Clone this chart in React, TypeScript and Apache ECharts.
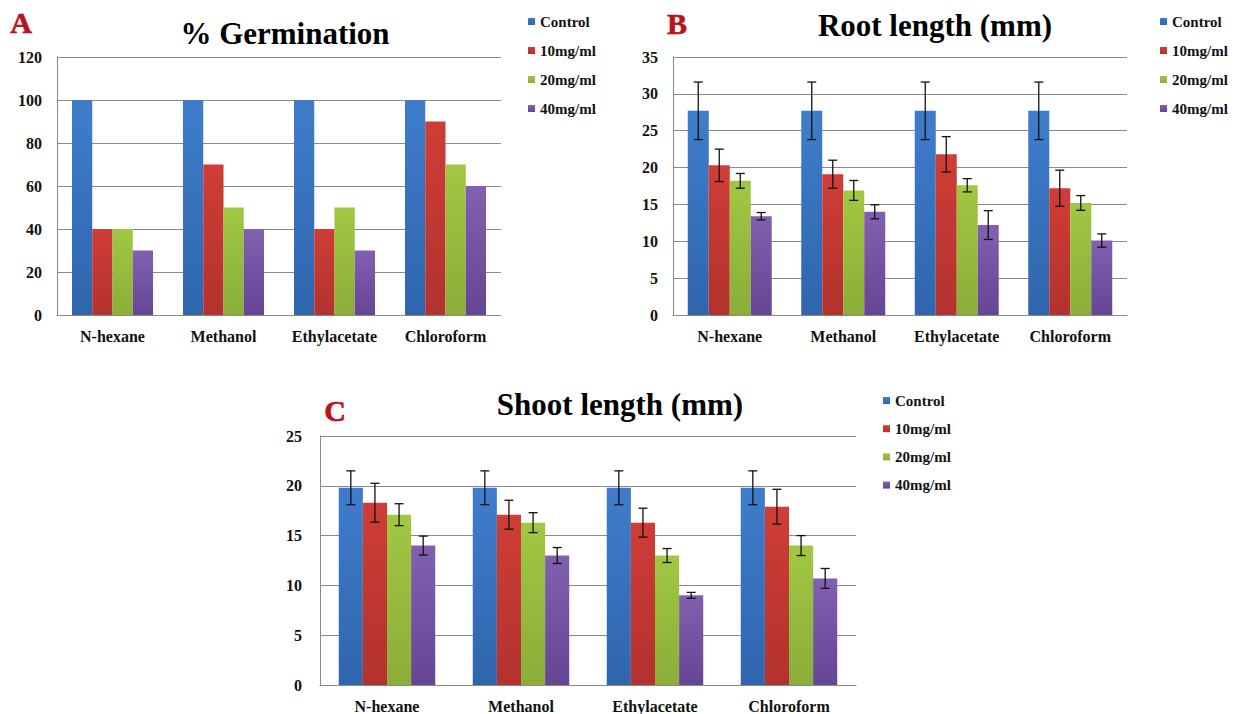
import React, { useEffect, useRef } from "react";
import * as echarts from "echarts";

const categories = ["N-hexane", "Methanol", "Ethylacetate", "Chloroform"];
const seriesNames = ["Control", "10mg/ml", "20mg/ml", "40mg/ml"];

// A: % Germination
const germControl = [100, 100, 100, 100];
const germ10 = [40, 70, 40, 90];
const germ20 = [40, 50, 50, 70];
const germ40 = [30, 40, 30, 60];

// B: Root length (mm)
const rootControl = [27.7, 27.7, 27.7, 27.7];
const root10 = [20.3, 19.1, 21.8, 17.2];
const root20 = [18.2, 16.9, 17.6, 15.2];
const root40 = [13.4, 14.0, 12.2, 10.1];
const rootErrControl = [3.9, 3.9, 3.9, 3.9];
const rootErr10 = [2.2, 1.9, 2.4, 2.45];
const rootErr20 = [1.0, 1.35, 0.9, 1.0];
const rootErr40 = [0.5, 0.95, 1.95, 0.9];

// C: Shoot length (mm)
const shootControl = [19.8, 19.8, 19.8, 19.8];
const shoot10 = [18.3, 17.1, 16.3, 17.9];
const shoot20 = [17.1, 16.3, 13.0, 14.0];
const shoot40 = [14.0, 13.0, 9.0, 10.7];
const shootErrControl = [1.7, 1.7, 1.7, 1.7];
const shootErr10 = [1.95, 1.45, 1.45, 1.75];
const shootErr20 = [1.1, 1.0, 0.7, 1.0];
const shootErr40 = [0.95, 0.8, 0.3, 1.0];

const FONT = "Liberation Serif";
const GRID_COLOR = "#8a8a8a";

const barColors = [
  ["#3f7dcc", "#2f65ad"],
  ["#cf3d36", "#b3322e"],
  ["#a2c743", "#8aae38"],
  ["#8260b0", "#664594"],
];

function grad(i: number) {
  return new echarts.graphic.LinearGradient(0, 0, 0, 1, [
    { offset: 0, color: barColors[i][0] },
    { offset: 1, color: barColors[i][1] },
  ]);
}

export default function App() {
  const ref = useRef<HTMLDivElement>(null);

  useEffect(() => {
    if (!ref.current) return;
    const chart = echarts.init(ref.current, undefined, { renderer: "svg" });

    const panels = [
      {
        grid: { left: 57, right: 736, top: 57, bottom: 399 },
        y: { min: 0, max: 120, interval: 20 },
        gap: 0.27,
        values: [germControl, germ10, germ20, germ40],
        errs: null as number[][] | null,
        labelMargin: 15,
      },
      {
        grid: { left: 673, right: 110, top: 57, bottom: 399 },
        y: { min: 0, max: 35, interval: 5 },
        gap: 0.26,
        values: [rootControl, root10, root20, root40],
        errs: [rootErrControl, rootErr10, rootErr20, rootErr40],
        labelMargin: 15,
      },
      {
        grid: { left: 320, right: 381, top: 436, bottom: 28 },
        y: { min: 0, max: 25, interval: 5 },
        gap: 0.28,
        values: [shootControl, shoot10, shoot20, shoot40],
        errs: [shootErrControl, shootErr10, shootErr20, shootErr40],
        labelMargin: 18,
      },
    ];

    const grids: any[] = [];
    const xAxes: any[] = [];
    const yAxes: any[] = [];
    const series: any[] = [];

    panels.forEach((p, pi) => {
      grids.push({ ...p.grid, containLabel: false });
      xAxes.push({
        type: "category",
        gridIndex: pi,
        data: categories,
        axisTick: { show: false },
        axisLine: { show: true, lineStyle: { color: GRID_COLOR, width: 1 } },
        axisLabel: {
          fontFamily: FONT,
          fontWeight: "bold",
          fontSize: 16,
          color: "#111",
          margin: 13,
        },
      });
      yAxes.push({
        type: "value",
        gridIndex: pi,
        min: p.y.min,
        max: p.y.max,
        interval: p.y.interval,
        axisTick: { show: false },
        axisLine: { show: true, lineStyle: { color: GRID_COLOR, width: 1 } },
        splitLine: { show: true, lineStyle: { color: GRID_COLOR, width: 1 } },
        axisLabel: {
          fontFamily: FONT,
          fontWeight: "bold",
          fontSize: 16,
          color: "#111",
          margin: p.labelMargin,
        },
      });

      p.values.forEach((vals, k) => {
        series.push({
          name: seriesNames[k],
          type: "bar",
          xAxisIndex: pi,
          yAxisIndex: pi,
          data: vals,
          barGap: "0%",
          barCategoryGap: `${p.gap * 100}%`,
          itemStyle: { color: grad(k) },
          emphasis: { disabled: true },
        });
      });

      if (p.errs) {
        const gap = p.gap;
        p.values.forEach((vals, k) => {
          const errs = (p.errs as number[][])[k];
          series.push({
            name: `err-${pi}-${k}`,
            type: "custom",
            xAxisIndex: pi,
            yAxisIndex: pi,
            silent: true,
            z: 10,
            encode: { x: 0, y: 1 },
            data: vals.map((v, i) => [i, v, errs[i]]),
            renderItem: (params: any, api: any) => {
              const cat = api.value(0);
              const v = api.value(1);
              const e = api.value(2);
              const c = api.coord([cat, v]);
              const catW = api.size([1, 0])[0];
              const groupW = catW * (1 - gap);
              const bw = groupW / 4;
              const x = c[0] - groupW / 2 + (k + 0.5) * bw;
              const top = api.coord([cat, v + e])[1];
              const bot = api.coord([cat, v - e])[1];
              const cap = 4.5;
              const st = { stroke: "#111", lineWidth: 1.3 };
              return {
                type: "group",
                children: [
                  { type: "line", shape: { x1: x, y1: top, x2: x, y2: bot }, style: st },
                  { type: "line", shape: { x1: x - cap, y1: top, x2: x + cap, y2: top }, style: st },
                  { type: "line", shape: { x1: x - cap, y1: bot, x2: x + cap, y2: bot }, style: st },
                ],
              };
            },
          });
        });
      }
    });

    const legendBase = {
      orient: "vertical",
      data: seriesNames,
      icon: "rect",
      itemWidth: 7,
      itemHeight: 7,
      itemGap: 14,
      selectedMode: false,
      textStyle: {
        fontFamily: FONT,
        fontWeight: "bold",
        fontSize: 15,
        lineHeight: 14.5,
        color: "#111",
      },
    };

    const titleStyle = (x: number, y: number, text: string) => ({
      type: "text",
      x,
      y,
      style: {
        text,
        fontFamily: FONT,
        fontWeight: "bold",
        fontSize: 31,
        fill: "#000",
        textAlign: "center",
        textVerticalAlign: "middle",
      },
    });
    const letterStyle = (x: number, y: number, text: string) => ({
      type: "text",
      x,
      y,
      style: {
        text,
        fontFamily: FONT,
        fontWeight: "bold",
        fontSize: 30,
        fill: "#c0101a",
        stroke: "#7a0a0f",
        lineWidth: 0.6,
        textAlign: "center",
        textVerticalAlign: "middle",
      },
    });

    chart.setOption({
      animation: false,
      backgroundColor: "#ffffff",
      textStyle: { fontFamily: FONT },
      grid: grids,
      xAxis: xAxes,
      yAxis: yAxes,
      legend: [
        { ...legendBase, left: 523, top: 9 },
        { ...legendBase, left: 1155, top: 9 },
        { ...legendBase, left: 878, top: 388, itemGap: 13.2 },
      ],
      graphic: [
        titleStyle(285, 33, "% Germination"),
        titleStyle(935, 25, "Root length (mm)"),
        titleStyle(620, 404, "Shoot length (mm)"),
        letterStyle(21, 22, "A"),
        letterStyle(677, 23, "B"),
        letterStyle(335, 410, "C"),
      ],
      series,
    });

    return () => chart.dispose();
  }, []);

  return (
    <div
      ref={ref}
      style={{
        position: "fixed",
        left: 0,
        top: 0,
        width: 1237,
        height: 714,
        background: "#fff",
      }}
    />
  );
}
